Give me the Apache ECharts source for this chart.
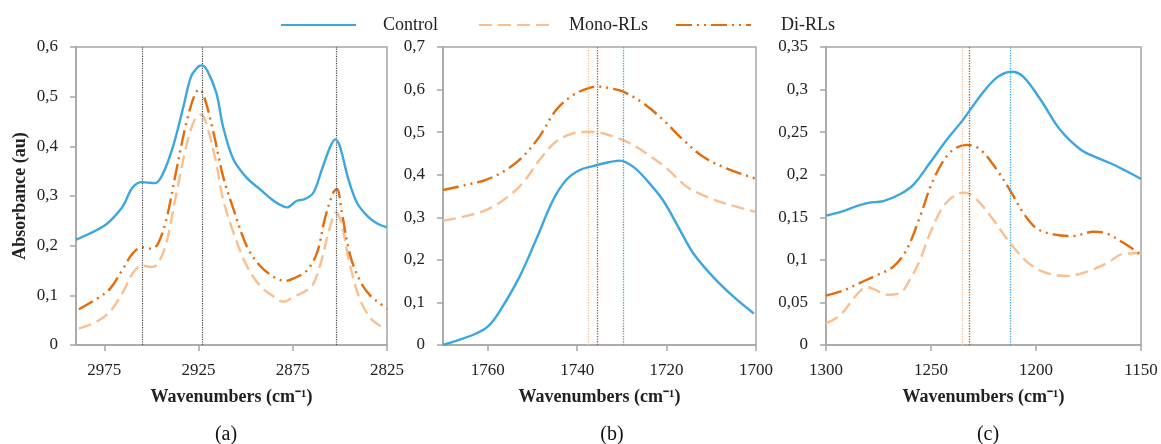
<!DOCTYPE html>
<html>
<head>
<meta charset="utf-8">
<script src="https://cdn.jsdelivr.net/npm/echarts@6/dist/echarts.min.js"></script>
<style>
html,body{margin:0;padding:0;background:#fff;}
#chart{width:1161px;height:444px;}
</style>
</head>
<body>
<div id="chart"></div>
<script>
// ---- Data (wavenumber, absorbance) ----
const seriesNames = ['Control', 'Mono-RLs', 'Di-RLs'];
const panelLabels = ['(a)', '(b)', '(c)'];

// Panel (a): 2990-2825 cm-1
const aControl = [[2990,0.212],[2983,0.224],[2975,0.24],[2970,0.257],[2965,0.28],[2960,0.317],[2955,0.328],[2952,0.327],[2948,0.326],[2944,0.344],[2938.5,0.40],[2933,0.48],[2929,0.54],[2925,0.561],[2923,0.563],[2920,0.55],[2915.5,0.507],[2912,0.44],[2906.5,0.374],[2899.5,0.337],[2892.5,0.314],[2885,0.29],[2880,0.279],[2878,0.277],[2873,0.29],[2868.5,0.294],[2864,0.307],[2859.5,0.354],[2855,0.40],[2852.5,0.414],[2850,0.40],[2845.5,0.334],[2841,0.287],[2835.5,0.26],[2830,0.244],[2825,0.237]];
const aMono = [[2988.5,0.033],[2979,0.047],[2972,0.067],[2965,0.107],[2960,0.144],[2955,0.16],[2950,0.157],[2946.5,0.164],[2942,0.207],[2937,0.30],[2931.5,0.40],[2927,0.454],[2923.5,0.464],[2921,0.447],[2916,0.374],[2912,0.294],[2906.5,0.227],[2899.5,0.16],[2892.5,0.12],[2885,0.097],[2880,0.087],[2874.5,0.097],[2869,0.107],[2864.5,0.12],[2860,0.167],[2855.5,0.234],[2852,0.267],[2849.5,0.25],[2845,0.167],[2839.5,0.093],[2833.5,0.053],[2828,0.037],[2825,0.03]];
const aDi = [[2988.5,0.072],[2979,0.093],[2972,0.113],[2965,0.154],[2960,0.184],[2955,0.197],[2950,0.194],[2946.5,0.204],[2942,0.254],[2937,0.347],[2931.5,0.447],[2927,0.504],[2924.5,0.515],[2922,0.50],[2917,0.427],[2912,0.34],[2906.5,0.274],[2899.5,0.20],[2892.5,0.16],[2885,0.137],[2879,0.129],[2874.5,0.134],[2867.5,0.15],[2862,0.187],[2858,0.254],[2853.5,0.307],[2851.5,0.314],[2849,0.267],[2844.5,0.18],[2839,0.127],[2834,0.10],[2828.5,0.083],[2825,0.073]];
const aMarkers = [2955, 2923, 2852];

// Panel (b): 1770-1700 cm-1
const bControl = [[1770,0.0],[1766.4,0.012],[1762.6,0.027],[1760,0.043],[1757.4,0.078],[1752.9,0.16],[1749.2,0.247],[1745.4,0.34],[1742.4,0.388],[1739.4,0.411],[1736.5,0.42],[1733.5,0.428],[1730.5,0.433],[1727.5,0.419],[1724.5,0.388],[1720.8,0.34],[1717,0.27],[1714,0.215],[1709.6,0.16],[1705.1,0.114],[1700.5,0.074]];
const bMono = [[1770,0.292],[1765.6,0.301],[1760.4,0.317],[1755.9,0.345],[1752.2,0.38],[1748.4,0.435],[1744.7,0.478],[1740.9,0.497],[1737.4,0.501],[1735,0.499],[1732,0.49],[1729,0.478],[1724.5,0.45],[1720,0.415],[1715.5,0.372],[1711,0.348],[1705.8,0.329],[1700.2,0.313]];
const bDi = [[1770,0.364],[1764.9,0.376],[1760.4,0.388],[1755.9,0.411],[1752.2,0.442],[1748.4,0.49],[1744.7,0.552],[1740.9,0.587],[1737.6,0.603],[1735.3,0.607],[1732.7,0.603],[1729.7,0.595],[1725.2,0.568],[1720.8,0.529],[1716.3,0.482],[1711.8,0.442],[1706.6,0.415],[1700.2,0.391]];
const bMarkers = [1729.7, 1737.5, 1735.6]; // Control, Mono, Di peaks

// Panel (c): 1300-1150 cm-1
const cControl = [[1300,0.152],[1293.3,0.156],[1285.4,0.163],[1279.8,0.167],[1272.7,0.169],[1264.8,0.177],[1258.4,0.188],[1250.5,0.214],[1242.5,0.241],[1234.6,0.265],[1226.7,0.292],[1218.7,0.314],[1211.6,0.321],[1206,0.315],[1197.8,0.288],[1188.6,0.253],[1179,0.23],[1171,0.22],[1163.2,0.212],[1156.8,0.204],[1150,0.195]];
const cMono = [[1300,0.0255],[1293.3,0.035],[1285.4,0.059],[1280.6,0.068],[1276.7,0.065],[1271.1,0.059],[1264.8,0.061],[1260,0.077],[1255.2,0.10],[1250.5,0.131],[1244.1,0.163],[1237.8,0.177],[1233.8,0.179],[1228.3,0.171],[1220.3,0.147],[1212.4,0.12],[1204.4,0.098],[1196.5,0.086],[1185.4,0.081],[1175.9,0.086],[1166.3,0.096],[1158.4,0.107],[1150,0.108]];
const cDi = [[1300,0.058],[1291.7,0.064],[1283.8,0.073],[1275.9,0.082],[1267.9,0.092],[1261.6,0.112],[1255.2,0.151],[1248.9,0.194],[1241,0.226],[1233,0.235],[1226.7,0.23],[1218.7,0.206],[1212.4,0.182],[1206,0.155],[1199.7,0.137],[1191.7,0.13],[1182.2,0.128],[1172.7,0.133],[1166.3,0.131],[1158.4,0.12],[1150,0.106]];
const cMarkers = [1212.2, 1235, 1232];

// Axis ranges / ticks
const xMins = [2825, 1700, 1150];
const xMaxs = [2990, 1770, 1300];
const xSteps = [50, 20, 50];
const yMaxs = [0.6, 0.7, 0.35];
const ySteps = [0.1, 0.1, 0.05];

// ---- Styles ----
const FONT = 'Liberation Serif';
const colors = ['#3CA6DE', '#FABF8F', '#E46C0A'];
const dashes = ['solid', [13, 6], [16, 5, 2, 5, 2, 5]];
const gridLefts = [76, 443, 826];
const gridWidths = [311, 313, 315];
const GRID_TOP = 47, GRID_H = 298;

const panels = [
  [aControl, aMono, aDi],
  [bControl, bMono, bDi],
  [cControl, cMono, cDi]
];

const grids = [], xAxes = [], yAxes = [], series = [], titles = [];
for (let p = 0; p < 3; p++) {
  grids.push({left: gridLefts[p], top: GRID_TOP, width: gridWidths[p], height: GRID_H,
    show: true, borderColor: '#A6A6A6', borderWidth: 1.5, backgroundColor: 'transparent'});
  xAxes.push({
    type: 'value', gridIndex: p, inverse: true,
    min: xMins[p], max: xMaxs[p], interval: xSteps[p],
    axisLine: {show: true, onZero: false, lineStyle: {color: '#A6A6A6', width: 1.5}},
    axisTick: {show: true, inside: false, length: 6, lineStyle: {color: '#A6A6A6', width: 1.5}},
    axisLabel: {show: true, margin: 17, fontFamily: FONT, fontSize: 17, color: '#222',
      showMaxLabel: (xMaxs[p] - xMins[p]) % xSteps[p] === 0, showMinLabel: true,
      formatter: v => String(v)},
    splitLine: {show: false},
    name: 'Wavenumbers (cm\u207B\u00B9)', nameLocation: 'middle', nameGap: 43,
    nameTextStyle: {fontFamily: FONT, fontSize: 18, fontWeight: 'bold', color: '#222'}
  });
  const yAx = {
    type: 'value', gridIndex: p, min: 0, max: yMaxs[p], interval: ySteps[p],
    axisLine: {show: true, lineStyle: {color: '#A6A6A6', width: 1.5}},
    axisTick: {show: true, inside: false, length: 6, lineStyle: {color: '#A6A6A6', width: 1.5}},
    axisLabel: {margin: 18, fontFamily: FONT, fontSize: 17, color: '#222',
      formatter: v => String(parseFloat(v.toFixed(3))).replace('.', ',')},
    splitLine: {show: false}
  };
  if (p === 0) {
    yAx.name = 'Absorbance (au)';
    yAx.nameLocation = 'middle';
    yAx.nameGap = 47;
    yAx.nameTextStyle = {fontFamily: FONT, fontSize: 18, fontWeight: 'bold', color: '#222'};
  }
  yAxes.push(yAx);

  const markerVals = [aMarkers, bMarkers, cMarkers][p];
  for (let s = 0; s < 3; s++) {
    const ser = {
      name: seriesNames[s], type: 'line', xAxisIndex: p, yAxisIndex: p,
      data: panels[p][s], smooth: 0.35, symbol: 'none', showSymbol: false,
      lineStyle: {color: colors[s], width: 2.4, type: dashes[s]},
      itemStyle: {color: colors[s]}, z: 3 + (s === 0 ? 2 : 0), silent: true
    };
    if (p === 0 && s === 0) {
      ser.markLine = {symbol: ['none', 'none'], silent: true, label: {show: false},
        lineStyle: {color: '#444', type: 'dotted', width: 1.2},
        data: markerVals.map(v => ({xAxis: v}))};
    } else if (p > 0) {
      const mc = s === 2 ? '#B4581A' : colors[s];
      ser.markLine = {symbol: ['none', 'none'], silent: true, label: {show: false},
        lineStyle: {color: mc, type: 'dotted', width: 1.3},
        data: [{xAxis: markerVals[s]}]};
    }
    series.push(ser);
  }
  titles.push({text: panelLabels[p], left: [221, 607, 983][p], top: 420, textAlign: 'center',
    textStyle: {fontFamily: FONT, fontSize: 20, fontWeight: 'normal', color: '#111'}});
}

const legendText = {fontFamily: FONT, fontSize: 18, color: '#222'};
function makeLegend(name, left, pad) {
  return {top: 11, left: left, data: [name], itemWidth: 75, itemHeight: 14, selectedMode: false,
    itemStyle: {opacity: 0},
    textStyle: Object.assign({}, legendText, {padding: [0, 0, 0, pad]})};
}
const legends = [
  makeLegend('Control', 275, 22),
  makeLegend('Mono-RLs', 473, 10),
  makeLegend('Di-RLs', 670, 25)
];

const chart = echarts.init(document.getElementById('chart'), null, {renderer: 'canvas'});
chart.setOption({
  animation: false,
  backgroundColor: '#fff',
  title: titles,
  legend: legends,
  grid: grids,
  xAxis: xAxes,
  yAxis: yAxes,
  series: series
});
</script>
</body>
</html>
